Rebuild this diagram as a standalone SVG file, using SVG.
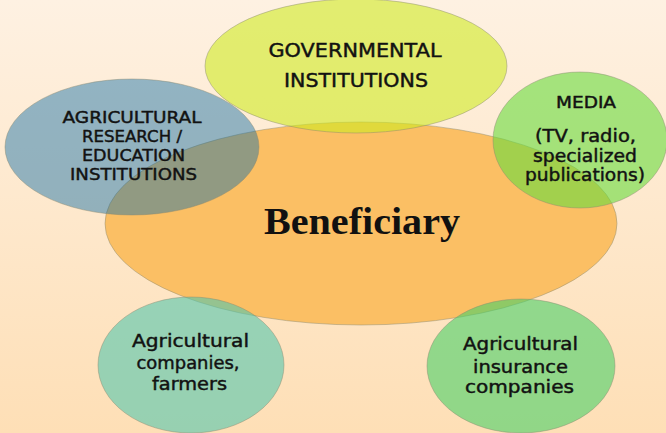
<svg xmlns="http://www.w3.org/2000/svg" width="666" height="433" viewBox="0 0 666 433">
  <defs>
    <linearGradient id="bg" x1="0" y1="0" x2="0" y2="1">
      <stop offset="0" stop-color="#fef1e2"/>
      <stop offset="1" stop-color="#fedfb6"/>
    </linearGradient>
  </defs>
  <style>
    .bubble { stroke: #8a8a70; stroke-opacity: 0.45; stroke-width: 1; }
    .label { font-family: "DejaVu Sans", "Liberation Sans", sans-serif; font-size: 16.5px; fill: #121212; stroke: #121212; stroke-width: 0.45px; text-anchor: middle; }
    .title { font-family: "Liberation Serif", "Times New Roman", serif; font-weight: bold; font-size: 38px; fill: #111; text-anchor: middle; }
  </style>

  <rect x="0" y="0" width="666" height="433" fill="url(#bg)"/>

  <!-- central node -->
  <g id="beneficiary">
    <ellipse class="bubble" cx="361" cy="223.5" rx="256" ry="101.5" fill="#fbbf64"/>
    <text class="title" x="362" y="234" textLength="196" lengthAdjust="spacingAndGlyphs">Beneficiary</text>
  </g>

  <!-- surrounding nodes -->
  <g id="governmental">
    <ellipse class="bubble" cx="356" cy="66" rx="151" ry="67" fill="rgb(205,234,32)" fill-opacity="0.59"/>
    <text class="label" style="font-size:19.5px" x="355" y="57" textLength="173" lengthAdjust="spacingAndGlyphs">GOVERNMENTAL</text>
    <text class="label" style="font-size:19.5px" x="356" y="87" textLength="144" lengthAdjust="spacingAndGlyphs">INSTITUTIONS</text>
  </g>

  <g id="research">
    <ellipse class="bubble" cx="132" cy="147" rx="127" ry="68" fill="rgb(16,109,167)" fill-opacity="0.45"/>
    <text class="label" x="132" y="123" textLength="139" lengthAdjust="spacingAndGlyphs">AGRICULTURAL</text>
    <text class="label" x="132" y="142" textLength="100" lengthAdjust="spacingAndGlyphs">RESEARCH /</text>
    <text class="label" x="133.5" y="161" textLength="103" lengthAdjust="spacingAndGlyphs">EDUCATION</text>
    <text class="label" x="133.5" y="180" textLength="127" lengthAdjust="spacingAndGlyphs">INSTITUTIONS</text>
  </g>

  <g id="media">
    <ellipse class="bubble" cx="580" cy="140" rx="87" ry="68" fill="rgb(104,220,61)" fill-opacity="0.6"/>
    <text class="label" style="font-size:16px" x="586" y="108" textLength="60" lengthAdjust="spacingAndGlyphs">MEDIA</text>
    <text class="label" style="font-size:17px" x="585.5" y="142" textLength="101" lengthAdjust="spacingAndGlyphs">(TV, radio,</text>
    <text class="label" style="font-size:17px" x="585" y="162" textLength="104" lengthAdjust="spacingAndGlyphs">specialized</text>
    <text class="label" style="font-size:17px" x="585" y="181" textLength="120" lengthAdjust="spacingAndGlyphs">publications)</text>
  </g>

  <g id="companies-farmers">
    <ellipse class="bubble" cx="191" cy="365" rx="93" ry="68" fill="rgb(81,199,173)" fill-opacity="0.6"/>
    <text class="label" style="font-size:17.5px" x="190.5" y="347" textLength="117" lengthAdjust="spacingAndGlyphs">Agricultural</text>
    <text class="label" style="font-size:17.5px" x="188" y="369" textLength="103" lengthAdjust="spacingAndGlyphs">companies,</text>
    <text class="label" style="font-size:17.5px" x="189.5" y="390" textLength="75" lengthAdjust="spacingAndGlyphs">farmers</text>
  </g>

  <g id="insurance">
    <ellipse class="bubble" cx="521" cy="366" rx="94" ry="67" fill="rgb(71,209,103)" fill-opacity="0.6"/>
    <text class="label" style="font-size:17.5px" x="520.5" y="350" textLength="115" lengthAdjust="spacingAndGlyphs">Agricultural</text>
    <text class="label" style="font-size:17.5px" x="520.5" y="373" textLength="95" lengthAdjust="spacingAndGlyphs">insurance</text>
    <text class="label" style="font-size:17.5px" x="519.5" y="393" textLength="109" lengthAdjust="spacingAndGlyphs">companies</text>
  </g>
</svg>
